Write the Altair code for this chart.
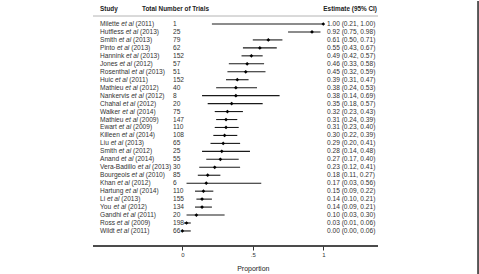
import altair as alt
import pandas as pd

# Study data
authors = ["Milette", "Hutfless", "Smith", "Pinto", "Hannink", "Jones", "Rosenthal",
           "Huic", "Mathieu", "Nankervis", "Chahal", "Walker", "Mathieu", "Ewart",
           "Killeen", "Liu", "Smith", "Anand", "Vera-Badillo", "Bourgeois", "Khan",
           "Hartung", "Li", "You", "Gandhi", "Ross", "Wildt"]
years = [2011, 2013, 2013, 2013, 2013, 2012, 2013, 2011, 2012, 2012, 2012, 2014, 2009,
         2009, 2014, 2013, 2012, 2014, 2013, 2010, 2012, 2014, 2013, 2012, 2011, 2009, 2011]
trials = [1, 25, 79, 62, 152, 57, 51, 152, 40, 8, 20, 75, 147, 110, 108, 65, 25, 55,
          30, 85, 6, 110, 155, 134, 20, 198, 66]
estimate = [1.00, 0.92, 0.61, 0.55, 0.49, 0.46, 0.45, 0.39, 0.38, 0.38, 0.35, 0.32, 0.31,
            0.31, 0.30, 0.29, 0.28, 0.27, 0.23, 0.18, 0.17, 0.15, 0.14, 0.14, 0.10, 0.03, 0.00]
ci_low = [0.21, 0.75, 0.50, 0.43, 0.42, 0.33, 0.32, 0.31, 0.24, 0.14, 0.18, 0.23, 0.24,
          0.23, 0.22, 0.20, 0.14, 0.17, 0.12, 0.11, 0.03, 0.09, 0.10, 0.09, 0.03, 0.01, 0.00]
ci_high = [1.00, 0.98, 0.71, 0.67, 0.57, 0.58, 0.59, 0.47, 0.53, 0.69, 0.57, 0.43, 0.39,
           0.40, 0.39, 0.41, 0.48, 0.40, 0.41, 0.27, 0.56, 0.22, 0.21, 0.21, 0.30, 0.06, 0.06]

FONT = "Liberation Sans"
ROW_SIZE = 6.6
HEAD_SIZE = 6.4

# Arial-compatible advance widths (per 1000 em) used to place the italic "et al"
_W = {" ": 278, "-": 333, "(": 333, ")": 333,
      "A": 667, "B": 667, "C": 722, "E": 667, "G": 778, "H": 722, "J": 500, "K": 667,
      "L": 556, "M": 833, "N": 722, "P": 667, "R": 722, "S": 667, "V": 667, "W": 944, "Y": 667,
      "a": 556, "b": 556, "c": 500, "d": 556, "e": 556, "f": 278, "g": 556, "h": 556,
      "i": 222, "j": 222, "k": 500, "l": 222, "m": 833, "n": 556, "o": 556, "p": 556,
      "q": 556, "r": 333, "s": 500, "t": 278, "u": 556, "v": 500, "w": 722, "x": 500,
      "y": 500, "z": 500}


def text_width(s, size):
    return sum(_W.get(c, 556) for c in s) * size / 1000.0


LABEL_X = 100
TRIALS_X = 173
EST_X = 327

df = pd.DataFrame({
    "row": list(range(len(authors))),
    "author": authors,
    "etal": ["et al"] * len(authors),
    "year": [f"({y})" for y in years],
    "trials": [str(t) for t in trials],
    "est": estimate,
    "lo": ci_low,
    "hi": ci_high,
    "est_label": [f"{e:.2f} ({l:.2f}, {h:.2f})" for e, l, h in zip(estimate, ci_low, ci_high)],
})
df["x_author"] = LABEL_X
df["x_etal"] = [LABEL_X + text_width(a + " ", ROW_SIZE) for a in authors]
df["x_year"] = df["x_etal"] + text_width("et al ", ROW_SIZE)

W, H = 479, 245
X0, PX = 182.3, 141.0       # pixel of proportion 0, pixels per unit
Y0, DY = 23.0, 7.96         # pixel of first row, row spacing

xscale = alt.Scale(domain=[-X0 / PX, (W - X0) / PX], nice=False, zero=False)
yscale = alt.Scale(domain=[-Y0 / DY, (H - Y0) / DY], nice=False, zero=False, reverse=True)
Y = alt.Y("row:Q", scale=yscale, axis=None)

base = alt.Chart(df)

ci = base.mark_rule(color="#1a1a1a", strokeWidth=1.1).encode(
    x=alt.X("lo:Q", scale=xscale, axis=alt.Axis(
        values=[0, 0.5, 1],
        labelExpr="datum.value == 0 ? '0' : datum.value == 1 ? '1' : '.5'",
        title="Proportion", titleX=X0 + 0.5 * PX)),
    x2="hi:Q",
    y=Y,
)
pts = base.mark_point(shape="diamond", filled=True, size=14, color="#000", opacity=1).encode(
    x=alt.X("est:Q", scale=xscale), y=Y)

row_text = dict(font=FONT, fontSize=ROW_SIZE, color="#333", align="left", baseline="middle")
t_author = base.mark_text(**row_text).encode(
    x=alt.X("x_author:Q", scale=None), y=Y, text="author:N")
t_etal = base.mark_text(fontStyle="italic", **row_text).encode(
    x=alt.X("x_etal:Q", scale=None), y=Y, text="etal:N")
t_year = base.mark_text(**row_text).encode(
    x=alt.X("x_year:Q", scale=None), y=Y, text="year:N")
t_trials = base.mark_text(**row_text).encode(
    x=alt.value(TRIALS_X), y=Y, text="trials:N")
t_est = base.mark_text(**row_text).encode(
    x=alt.value(EST_X), y=Y, text="est_label:N")

# Column headers
heads = pd.DataFrame({"label": ["Study", "Total Number of Trials", "Estimate (95% CI)"],
                      "px": [LABEL_X, 142, 377],
                      "al": ["left", "left", "right"]})
head_base = alt.Chart(heads)
head_l = head_base.transform_filter("datum.al == 'left'").mark_text(
    font=FONT, fontSize=HEAD_SIZE, fontWeight="bold", color="#222",
    align="left", baseline="middle").encode(
    x=alt.X("px:Q", scale=None), y=alt.value(8), text="label:N")
head_r = head_base.transform_filter("datum.al == 'right'").mark_text(
    font=FONT, fontSize=HEAD_SIZE, fontWeight="bold", color="#222",
    align="right", baseline="middle").encode(
    x=alt.X("px:Q", scale=None), y=alt.value(8), text="label:N")

head_line = alt.Chart(heads).mark_rule(color="#d4d4d4", strokeWidth=1).encode(
    x=alt.value(93), x2=alt.value(378), y=alt.value(15))
axis_line = alt.Chart(heads).mark_rule(color="#333", strokeWidth=1).encode(
    x=alt.value(93), x2=alt.value(378), y=alt.value(H))
edge = alt.Chart(heads).mark_rule(color="#555", strokeWidth=1.5).encode(
    x=alt.value(478.2), y=alt.value(0), y2=alt.value(274))

chart = alt.layer(
    head_line, axis_line, edge, ci, pts,
    t_author, t_etal, t_year, t_trials, t_est, head_l, head_r,
).properties(
    width=W, height=H, padding=0, autosize=alt.AutoSizeParams(type="pad"),
).configure_view(stroke=None).configure_axis(
    domain=False, grid=False, ticks=True, tickSize=4, tickColor="#333", tickWidth=1,
    labelFont=FONT, labelFontSize=6, labelColor="#333", labelPadding=1,
    titleFont=FONT, titleFontSize=7, titleFontWeight="normal", titleColor="#222",
    titlePadding=7,
)

chart.save("out.html", embed_options={"renderer": "svg", "actions": False})
